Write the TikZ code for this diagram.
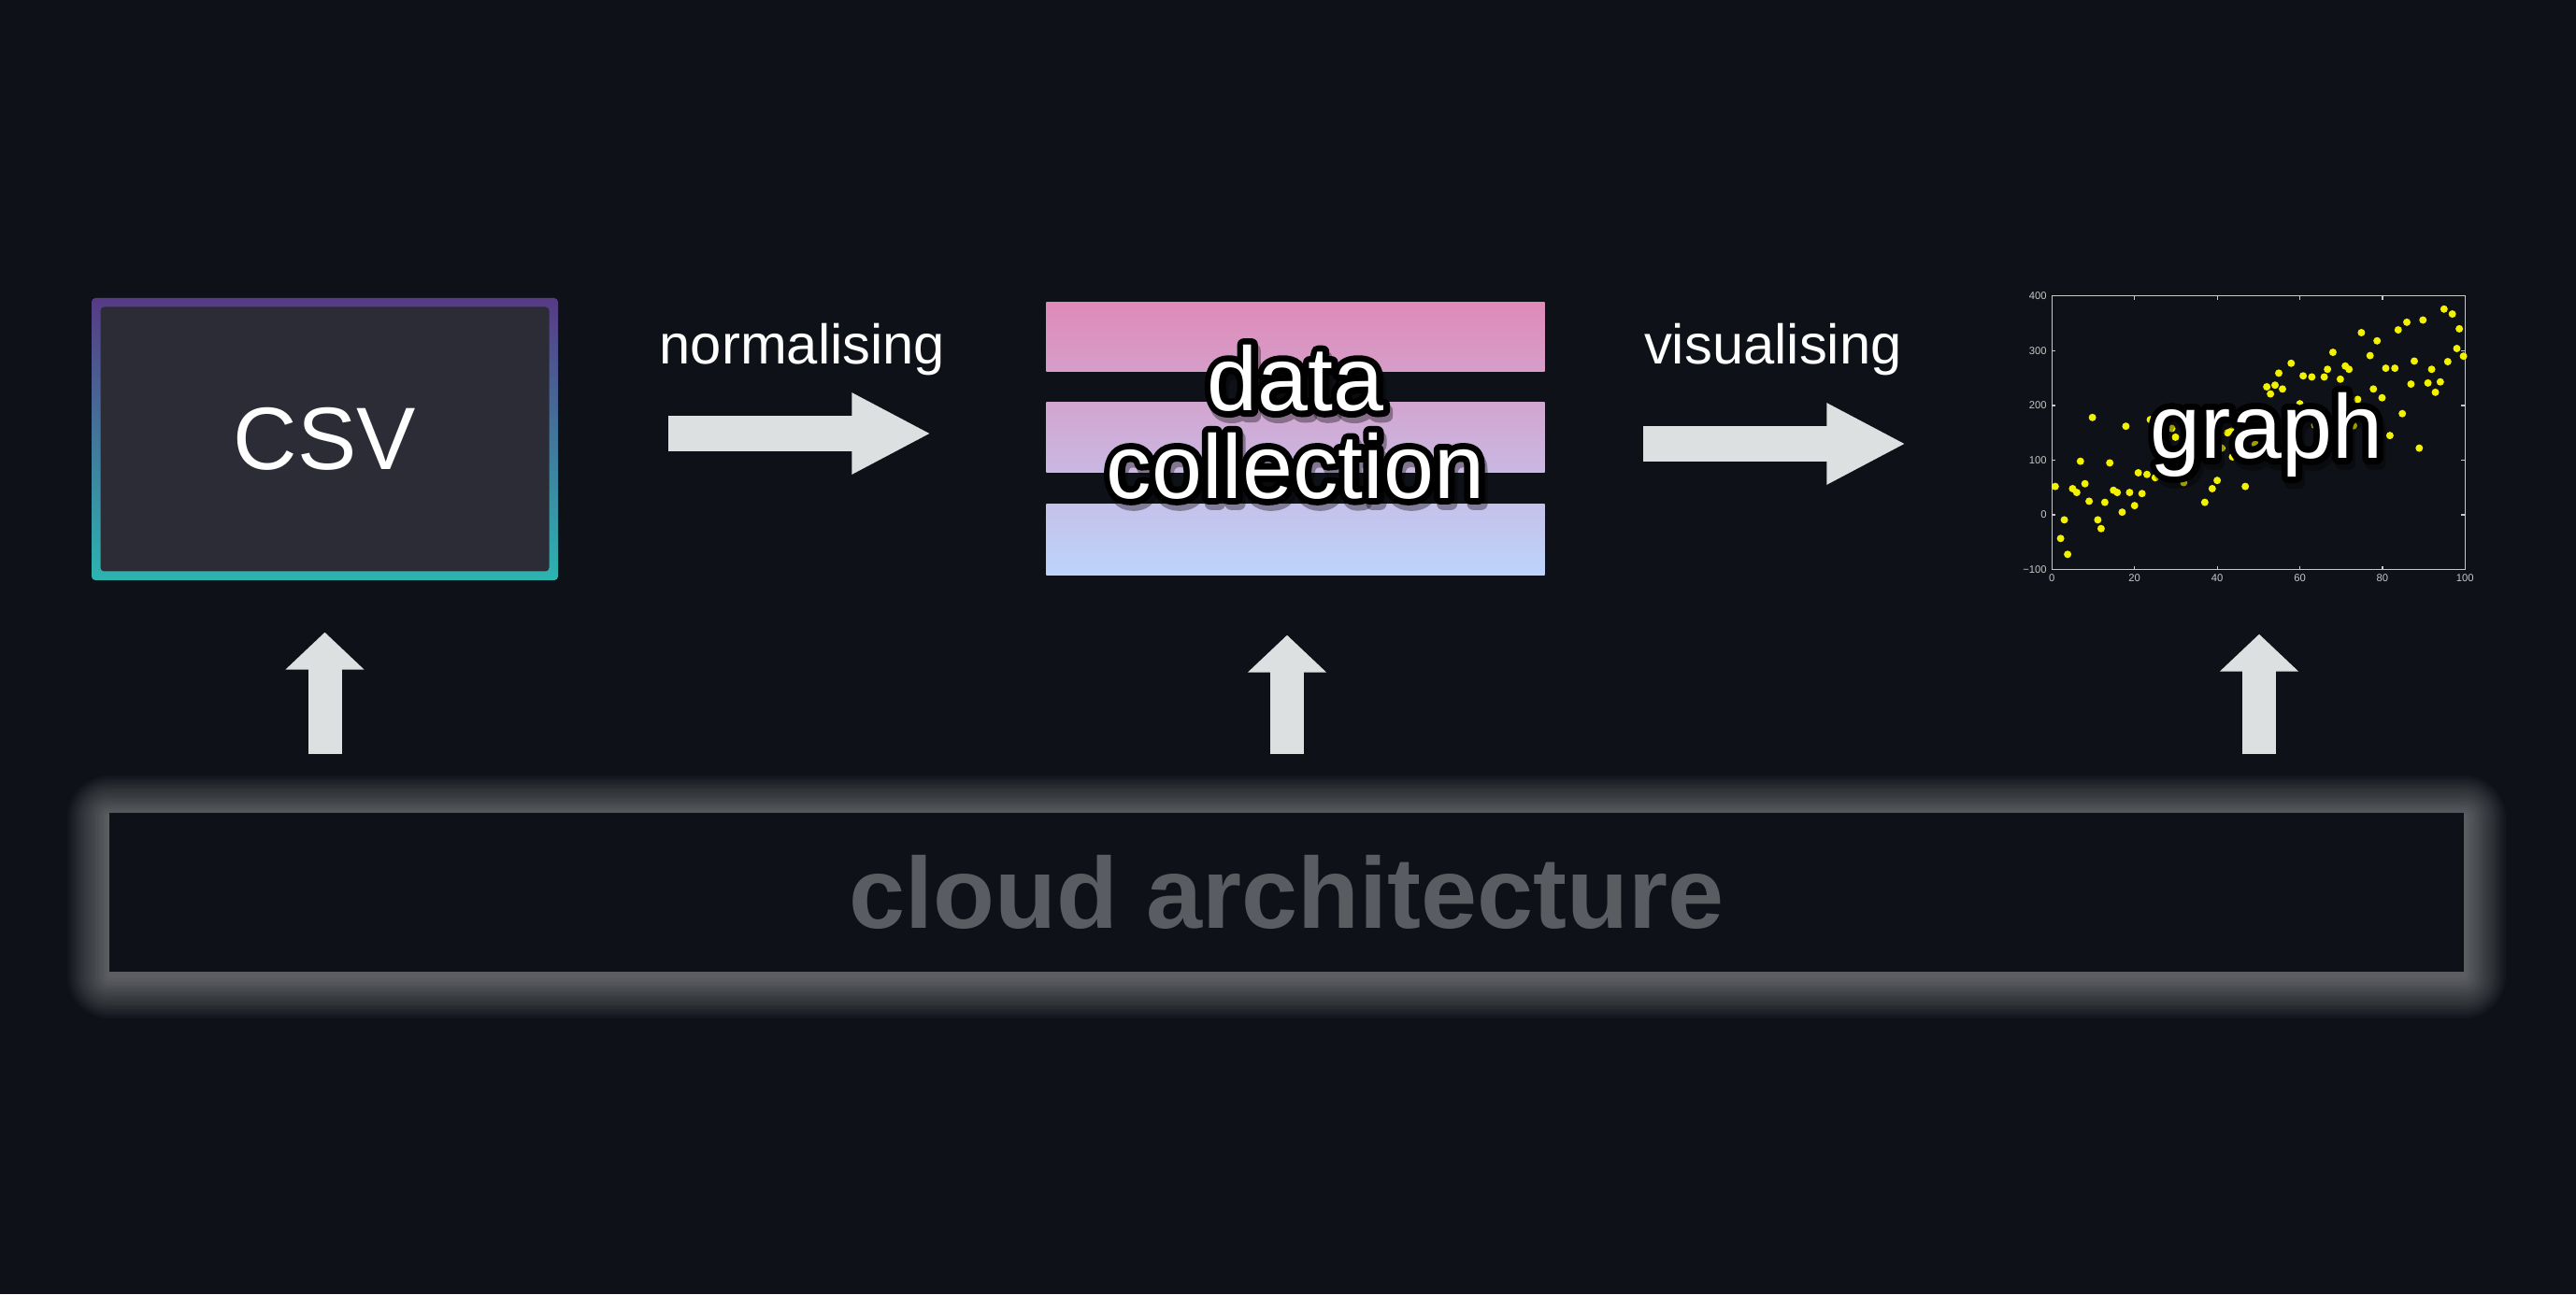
\documentclass[tikz,border=0pt]{standalone}
\usepackage{fontspec}
\setmainfont{Liberation Sans}
\newfontfamily\halofont[FakeBold=14]{Liberation Sans}
\usepackage{xcolor}
\usetikzlibrary{arrows.meta,positioning}

\definecolor{bg}{HTML}{0E1117}
\definecolor{csvfill}{HTML}{2C2C37}
\definecolor{csvtop}{HTML}{573A86}
\definecolor{csvbot}{HTML}{2CB4B0}
\definecolor{barA}{RGB}{223,138,184}
\definecolor{barB}{RGB}{214,157,201}
\definecolor{barC}{RGB}{210,165,208}
\definecolor{barD}{RGB}{201,184,226}
\definecolor{barE}{RGB}{197,193,234}
\definecolor{barF}{RGB}{188,212,251}
\definecolor{arrowgray}{HTML}{DDE0E0}
\definecolor{cloudgray}{HTML}{595C61}
\definecolor{tickgray}{HTML}{C8C8C8}
\definecolor{dotyellow}{HTML}{F2F200}

\begin{document}
\begin{tikzpicture}
    \tikzstyle{csvbox}=[rectangle, rounded corners=0.04cm, minimum width=4.99cm, minimum height=3.02cm, top color=csvtop, bottom color=csvbot, path picture={\fill[csvfill] ([shift={(0.095,-0.095)}]path picture bounding box.north west) rectangle ([shift={(-0.095,0.095)}]path picture bounding box.south east);}, text=white, font=\fontsize{27}{30}\selectfont]
    \tikzstyle{stack}=[rectangle, minimum width=5.32cm, minimum height=2.92cm, inner sep=0]
    \tikzstyle{plotbox}=[rectangle, minimum width=4.42cm, minimum height=2.93cm, inner sep=0]
    \tikzstyle{cloudbox}=[rectangle, fill=bg, minimum width=25.19cm, minimum height=1.70cm, text=cloudgray, font=\fontsize{30.7}{34}\selectfont\bfseries]
    \tikzstyle{bigtext}=[text=white, align=center, font=\fontsize{27.6}{26.7}\selectfont]
    \tikzstyle{halo}=[bigtext, text=black, line join=round, font=\fontsize{27.6}{26.7}\halofont]
    \tikzstyle{steplabel}=[text=white, inner sep=0, outer sep=0, font=\fontsize{17}{20}\selectfont]
    \tikzstyle{bigarrow}=[draw=arrowgray, line width=0.38cm, -{Triangle[length=0.85cm, width=0.81cm]}]
    \tikzstyle{uparrow}=[draw=arrowgray, line width=0.36cm, -{Triangle[length=0.40cm, width=0.82cm]}, shorten <=0.62cm]
    \tikzstyle{axis}=[draw=tickgray, line width=0.35pt]
    \tikzstyle{ticklabel}=[text=tickgray, inner sep=0, font=\fontsize{3.2}{4}\selectfont]
    \tikzstyle{dot}=[fill=dotyellow]

    \fill[bg] (0,0) rectangle (27.56,13.85);

    % glow under the base layer
    \foreach \g in {1,...,18}
        \fill[white, opacity=0.025, rounded corners=\g*0.025cm] (1.17-\g*0.025, 3.40-\g*0.025) rectangle (26.36+\g*0.025, 5.10+\g*0.025);
    \node[cloudbox] (cloud) at (13.765,4.30) {cloud architecture};

    \node[csvbox] (csv) at (3.475,9.15) {CSV};

    \node[stack] (data) at (13.86,9.15) {};
    \foreach \ya/\yb/\ca/\cb in {0/0.74/barA/barB, 1.07/1.82/barC/barD, 2.16/2.92/barE/barF}
        \shade[top color=\ca, bottom color=\cb] ([yshift=-\ya cm]data.north west) rectangle ([yshift=-\yb cm]data.north east);
    \node[halo, text opacity=0.35] at ([shift={(0.03,0.125)}]data.center) {data\\collection};
    \node[halo] at ([yshift=0.185cm]data.center) {data\\collection};
    \node[bigtext] (datatext) at ([yshift=0.185cm]data.center) {data\\collection};

    \node[plotbox] (graph) at (24.17,9.225) {};
    \begin{scope}[shift={([yshift=0.586cm]graph.south west)}, x=0.0442cm, y=0.00586cm]
        \draw[axis] (0,-100) rectangle (100,400);
        \foreach \t in {0,20,...,100} {
            \draw[axis] (\t,-100) -- ++(0pt,0.04cm);
            \draw[axis] (\t,400) -- ++(0pt,-0.04cm);
            \node[ticklabel, below=0.04cm] at (\t,-100) {\t};
        }
        \foreach \t/\s in {-100/−100, 0/0, 100/100, 200/200, 300/300, 400/400} {
            \draw[axis] (0,\t) -- ++(0.04cm,0pt);
            \draw[axis] (100,\t) -- ++(-0.04cm,0pt);
            \node[ticklabel, left=0.05cm] at (0,\t) {\s};
        }
        \foreach \p in {(0.8,52), (2.1,-43), (3.0,-9), (3.8,-72), (5.0,48), (6.0,41), (6.9,98), (8.0,57), (9.0,25), (9.8,178),
                        (11.1,-9), (11.9,-25), (12.8,23), (14.0,95), (14.9,45), (15.8,41), (17.0,5), (17.9,162), (18.8,41), (20.0,17),
                        (20.9,77), (21.8,39), (23.0,74), (23.8,174), (25.0,68), (29.0,158), (29.9,142), (31.9,59), (37.0,23), (38.8,48),
                        (40.0,63), (41.1,122), (42.5,150), (43.4,153), (43.7,106), (46.8,52), (49.2,129), (52.0,234), (52.9,221), (54.0,237),
                        (54.9,259), (55.8,230), (57.9,277), (60.0,203), (60.8,254), (62.9,252), (63.6,164), (65.9,252), (66.7,266), (68.0,297),
                        (69.8,248), (71.0,272), (71.9,266), (73.0,163), (74.0,211), (74.9,333), (77.0,291), (77.8,230), (78.7,318), (80.8,268),
                        (79.9,214), (81.8,145), (83.0,268), (83.8,338), (84.8,185), (85.9,352), (86.9,239), (87.7,281), (88.9,122), (89.8,356),
                        (91.0,241), (91.9,266), (92.8,224), (94.0,243), (94.9,376), (95.8,280), (96.9,367), (98.0,304), (98.6,340), (99.6,290)}
            \fill[dot] \p circle (0.04cm);
    \end{scope}
    \node[halo, text opacity=0.35] at ([shift={(0.11,-0.085)}]graph.center) {graph};
    \node[halo] at ([shift={(0.08,-0.025)}]graph.center) {graph};
    \node[bigtext] (graphtext) at ([shift={(0.08,-0.025)}]graph.center) {graph};

    \draw[bigarrow, shorten <=1.17cm, shorten >=1.23cm] ([yshift=0.06cm]csv.east) -- node[steplabel, above=0.62cm] {normalising} ([yshift=0.06cm]data.west);
    \coordinate (vstart) at ([yshift=-0.05cm]data.east);
    \draw[bigarrow, shorten <=1.05cm, shorten >=1.56cm] (vstart) -- node[steplabel, above=0.73cm, pos=0.45] {visualising} (vstart -| graph.west);

    \coordinate (dfoot) at ([xshift=-0.09cm]data.south);
    \draw[uparrow, shorten >=0.55cm] (cloud.north -| csv.south) -- (csv.south);
    \draw[uparrow, shorten >=0.63cm] (cloud.north -| dfoot) -- (dfoot);
    \draw[uparrow, shorten >=0.69cm] (cloud.north -| graph.south) -- (graph.south);
\end{tikzpicture}
\end{document}
